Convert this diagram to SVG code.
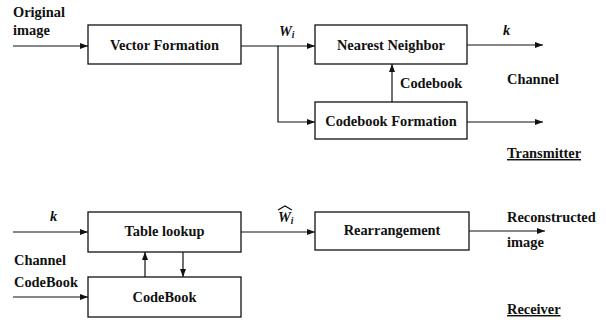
<svg xmlns="http://www.w3.org/2000/svg" width="606" height="324" viewBox="0 0 606 324">
<style>
.box{fill:#fff;stroke:#111;stroke-width:1.3}
.ln{fill:none;stroke:#111;stroke-width:1.2}
.t{font-family:'Liberation Serif','Times New Roman',serif;font-weight:bold;font-size:14.4px;fill:#111}
.c{text-anchor:middle}
.i{font-style:italic}
.u{text-decoration:underline}
</style>
<defs>
<marker id="a" viewBox="0 0 8 6" refX="8" refY="3" markerWidth="8" markerHeight="6" markerUnits="userSpaceOnUse" orient="auto">
<path d="M0,0 L8,3 L0,6 Z" fill="#111"/>
</marker>
</defs>
<rect width="606" height="324" fill="#fff"/>
<g id="connectors">
<line class="ln" x1="13" y1="46" x2="88" y2="46" marker-end="url(#a)"/>
<polyline class="ln" points="241,46 278,46 278,122 315,122" marker-end="url(#a)"/>
<line class="ln" x1="278" y1="46" x2="315" y2="46" marker-end="url(#a)"/>
<line class="ln" x1="467" y1="45" x2="543" y2="45" marker-end="url(#a)"/>
<line class="ln" x1="392" y1="102" x2="392" y2="64" marker-end="url(#a)"/>
<line class="ln" x1="467" y1="122" x2="543" y2="122" marker-end="url(#a)"/>
<line class="ln" x1="13" y1="232" x2="88" y2="232" marker-end="url(#a)"/>
<line class="ln" x1="13" y1="297" x2="88" y2="297" marker-end="url(#a)"/>
<line class="ln" x1="145" y1="277" x2="145" y2="252" marker-end="url(#a)"/>
<line class="ln" x1="183" y1="252" x2="183" y2="277" marker-end="url(#a)"/>
<line class="ln" x1="241" y1="232" x2="315" y2="232" marker-end="url(#a)"/>
<line class="ln" x1="469" y1="231" x2="545" y2="231" marker-end="url(#a)"/>
</g>
<g id="vector-formation">
<rect class="box" x="88" y="25" width="153" height="39"/>
<text class="t c" x="164.5" y="50">Vector Formation</text>
</g>
<g id="nearest-neighbor">
<rect class="box" x="315" y="25" width="152" height="39"/>
<text class="t c" x="391" y="50">Nearest Neighbor</text>
</g>
<g id="codebook-formation">
<rect class="box" x="315" y="102" width="152" height="37"/>
<text class="t c" x="391" y="126">Codebook Formation</text>
</g>
<g id="table-lookup">
<rect class="box" x="88" y="212" width="153" height="40"/>
<text class="t c" x="164.5" y="236">Table lookup</text>
</g>
<g id="codebook">
<rect class="box" x="88" y="277" width="153" height="40"/>
<text class="t c" x="164.5" y="302">CodeBook</text>
</g>
<g id="rearrangement">
<rect class="box" x="315" y="212" width="154" height="38"/>
<text class="t c" x="392" y="235">Rearrangement</text>
</g>
<g id="labels">
<text class="t" x="13" y="17">Original</text>
<text class="t" x="13" y="35">image</text>
<text class="t i" x="279" y="36">W<tspan font-size="9.5" dy="2">i</tspan></text>
<text class="t i" x="503" y="35">k</text>
<text class="t" x="400" y="88">Codebook</text>
<text class="t" x="507" y="84">Channel</text>
<text class="t u" x="507" y="158">Transmitter</text>
<text class="t i" x="50" y="221">k</text>
<text class="t i" x="278" y="222">W<tspan font-size="9.5" dy="2">i</tspan></text>
<path class="ln" d="M278,210 L285,206 L292,210" stroke-width="1"/>
<text class="t" x="14" y="265">Channel</text>
<text class="t" x="14" y="287">CodeBook</text>
<text class="t" x="507" y="222">Reconstructed</text>
<text class="t" x="507" y="247">image</text>
<text class="t u" x="507" y="314">Receiver</text>
</g>
</svg>
